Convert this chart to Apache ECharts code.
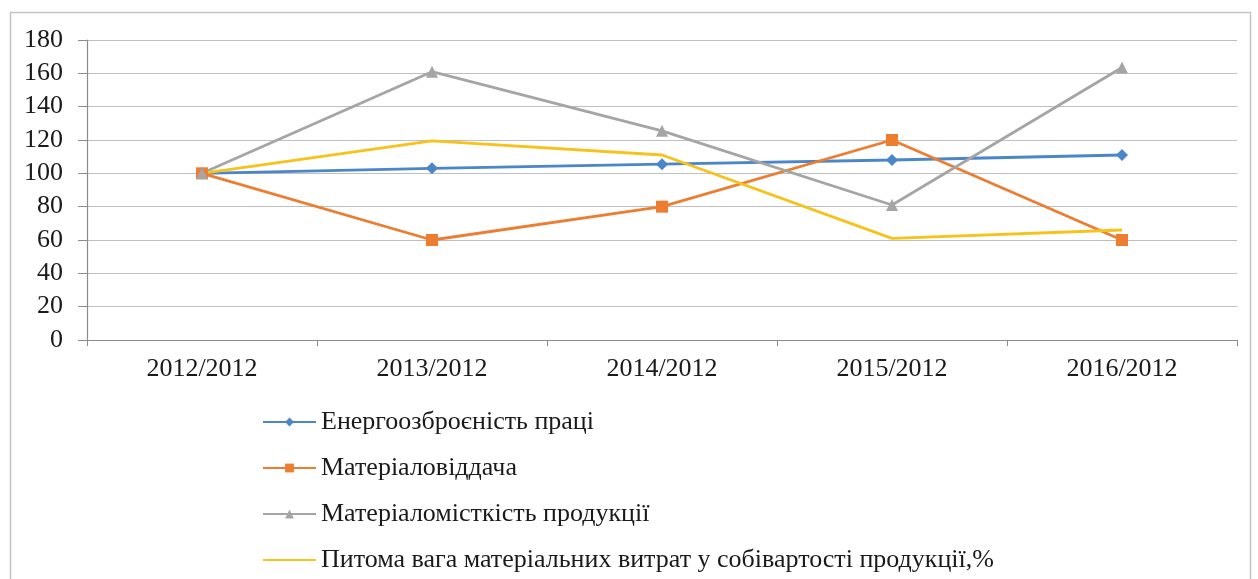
<!DOCTYPE html>
<html>
<head>
<meta charset="utf-8">
<script src="https://cdn.jsdelivr.net/npm/echarts@6/dist/echarts.min.js"></script>
<style>
  html, body { margin: 0; padding: 0; background: #fff; }
  #chart { width: 1258px; height: 579px; }
</style>
</head>
<body>
<div id="chart"></div>
<script>
// Index values relative to 2012 (2012 = 100)
const categories = ['2012/2012', '2013/2012', '2014/2012', '2015/2012', '2016/2012'];
const energyArmament = [100, 103, 105.5, 108, 111];
const materialReturn = [100, 60, 80, 120, 60];
const materialIntensity = [100, 161, 125.5, 81, 163.5];
const materialCostShare = [100, 119.5, 111, 61, 66];
const seriesNames = [
  'Енергоозброєність праці',
  'Матеріаловіддача',
  'Матеріаломісткість продукції',
  'Питома вага матеріальних витрат у собівартості продукції,%'
];
const yTicks = { min: 0, max: 180, interval: 20 };

const font = '"Liberation Serif", "DejaVu Serif", serif';
const chart = echarts.init(document.getElementById('chart'));

function line(name, data, color, symbol, size) {
  return {
    name, type: 'line', data,
    symbol, symbolSize: size,
    lineStyle: { color, width: 2.8 },
    itemStyle: { color },
    z: 3
  };
}

chart.setOption({
  animation: false,
  backgroundColor: '#fff',
  textStyle: { fontFamily: font },
  graphic: [{
    type: 'rect', left: 8, top: 10,
    shape: { width: 1240, height: 580 },
    style: { fill: 'none', stroke: '#c4c4c4', lineWidth: 1.5 },
    silent: true
  }],
  grid: { left: 87, right: 21, top: 40, bottom: 239 },
  legend: {
    orient: 'vertical', left: 257, top: 404, height: 260,
    itemGap: 20, itemWidth: 53, itemHeight: 11,
    textStyle: { fontFamily: font, fontSize: 26, color: '#1a1a1a' },
    data: [
      seriesNames[0],
      seriesNames[1],
      seriesNames[2],
      { name: seriesNames[3], itemStyle: { opacity: 0 } }
    ]
  },
  xAxis: {
    type: 'category', data: categories, boundaryGap: true,
    axisLine: { lineStyle: { color: '#8c8c8c', width: 1.2 } },
    axisTick: { show: true, length: 6, inside: false, lineStyle: { color: '#8c8c8c' } },
    axisLabel: { fontFamily: font, fontSize: 26, color: '#1a1a1a', margin: 16 }
  },
  yAxis: {
    type: 'value', min: yTicks.min, max: yTicks.max, interval: yTicks.interval,
    axisLine: { show: true, lineStyle: { color: '#8c8c8c', width: 1.2 } },
    axisTick: { show: true, length: 9, lineStyle: { color: '#8c8c8c' } },
    axisLabel: { fontFamily: font, fontSize: 26, color: '#1a1a1a', margin: 24 },
    splitLine: { lineStyle: { color: '#bfbfbf', width: 1.2 } }
  },
  series: [
    line(seriesNames[0], energyArmament, '#4a86c8', 'diamond', 12),
    line(seriesNames[1], materialReturn, '#ed7d31', 'rect', 12),
    line(seriesNames[2], materialIntensity, '#a5a5a5', 'triangle', 12),
    line(seriesNames[3], materialCostShare, '#f7c21a', 'none', 0)
  ]
});
</script>
</body>
</html>
